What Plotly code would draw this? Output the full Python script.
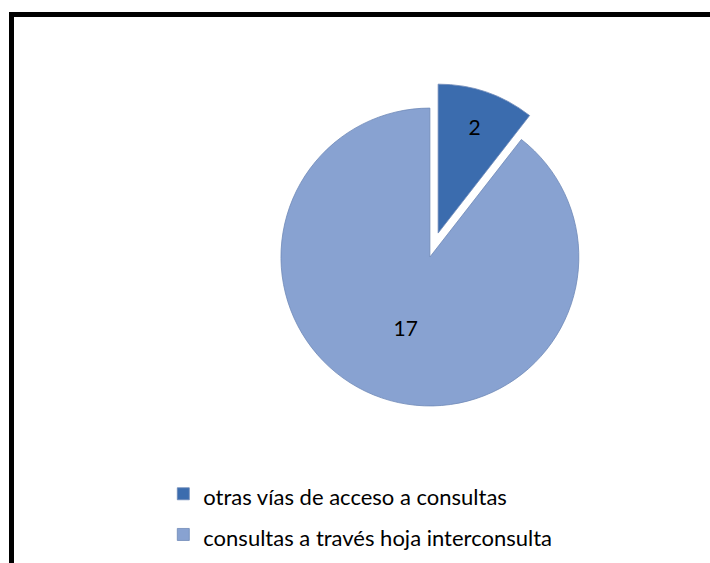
import plotly.graph_objects as go

# Slice data
categorias = ["otras vías de acceso a consultas", "consultas a través hoja interconsulta"]
valores = [2, 17]
colores = ["#3B6CAE", "#88A2D1"]
separacion = [0.17, 0]

W, H = 710, 563

# legend labels: small inner span keeps the text size while the base font sets row spacing
etiquetas_leyenda = [f'<span style="font-size:22px">{c}</span>' for c in categorias]

fig = go.Figure(
    go.Pie(
        labels=etiquetas_leyenda,
        values=valores,
        sort=False,
        direction="clockwise",
        rotation=0,
        pull=separacion,
        marker=dict(colors=colores, line=dict(color="#6F89B8", width=0.8)),
        textinfo="value",
        textposition="inside",
        insidetextorientation="horizontal",
        textfont=dict(family="Lato", size=21, color="#000000"),
        domain=dict(x=[0.360, 0.851], y=[0.234, 0.853]),
        hoverinfo="label+value",
    )
)

fig.update_layout(
    width=W,
    height=H,
    margin=dict(l=0, r=0, t=0, b=0),
    paper_bgcolor="#FFFFFF",
    plot_bgcolor="#FFFFFF",
    showlegend=True,
    legend=dict(
        x=0.230,
        y=0.168,
        xanchor="left",
        yanchor="top",
        font=dict(family="Lato", size=29, color="#000000"),
        bgcolor="rgba(0,0,0,0)",
        traceorder="normal",
    ),
    shapes=[
        dict(
            type="rect",
            xref="paper",
            yref="paper",
            x0=11.5 / W,
            x1=1.05,
            y0=-0.05,
            y1=1 - 14.5 / H,
            line=dict(color="#000000", width=5),
            fillcolor="rgba(0,0,0,0)",
        )
    ],
)

fig.write_html("out.html")
